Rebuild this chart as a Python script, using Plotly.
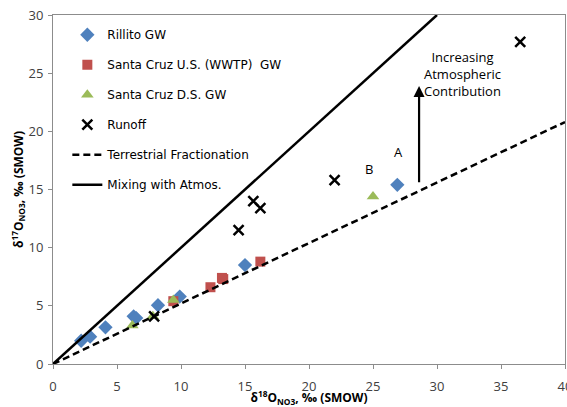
import plotly.graph_objects as go

# ---- data ----
rillito_x = [2.2, 2.9, 4.1, 6.3, 6.5, 8.2, 9.9, 15.0, 26.9]
rillito_y = [2.0, 2.35, 3.15, 4.1, 3.95, 5.05, 5.8, 8.5, 15.4]

scus_x = [9.4, 12.3, 13.3, 13.2, 16.2]
scus_y = [5.4, 6.6, 7.3, 7.4, 8.8]

scds_x = [6.2, 7.8, 9.4, 25.0]
scds_y = [3.3, 4.1, 5.5, 14.4]

runoff_x = [7.9, 14.5, 15.65, 16.2, 22.0, 36.5]
runoff_y = [4.1, 11.5, 14.0, 13.4, 15.8, 27.7]

terr_x = [0, 40]
terr_y = [0, 20.8]

mix_x = [0, 30]
mix_y = [0, 30]

font_family = "Open Sans"
legend_font = "DejaVu Sans"
tick_color = "#404040"

fig = go.Figure()

fig.add_trace(go.Scatter(x=rillito_x, y=rillito_y, mode="markers", name="Rillito GW",
                         legendgroup="a",
                         marker=dict(symbol="diamond", size=11, color="#4F81BD")))
fig.add_trace(go.Scatter(x=scus_x, y=scus_y, mode="markers", name="Santa Cruz U.S. (WWTP)  GW",
                         legendgroup="b",
                         marker=dict(symbol="square", size=10, color="#C0504D")))
fig.add_trace(go.Scatter(x=scds_x, y=scds_y, mode="markers", name="Santa Cruz D.S. GW",
                         legendgroup="c",
                         marker=dict(symbol="triangle-up", size=11, color="#9BBB59")))
fig.add_trace(go.Scatter(x=runoff_x, y=runoff_y, mode="markers", name="Runoff",
                         legendgroup="d",
                         marker=dict(symbol="x-thin", size=10, color="black",
                                     line=dict(width=2.5, color="black"))))
fig.add_trace(go.Scatter(x=terr_x, y=terr_y, mode="lines", name="Terrestrial Fractionation",
                         legendgroup="e",
                         line=dict(color="black", width=2.5, dash="7px,4px")))
fig.add_trace(go.Scatter(x=mix_x, y=mix_y, mode="lines", name="Mixing with Atmos.",
                         legendgroup="f",
                         line=dict(color="black", width=2.5)))

fig.add_annotation(x=28.6, y=23.9, ax=28.6, ay=15.5, xref="x", yref="y", axref="x", ayref="y",
                   text="", showarrow=True, arrowhead=2, arrowsize=1, arrowwidth=2.2, arrowcolor="black")
fig.add_annotation(x=32.0, y=24.9, xref="x", yref="y", showarrow=False,
                   text="Increasing<br>Atmospheric<br>Contribution",
                   font=dict(family=font_family, size=13, color="black"), align="center")
fig.add_annotation(x=27.0, y=18.2, xref="x", yref="y", showarrow=False, text="A",
                   font=dict(family=font_family, size=13, color="black"))
fig.add_annotation(x=24.7, y=16.8, xref="x", yref="y", showarrow=False, text="B",
                   font=dict(family=font_family, size=13, color="black"))

fig.update_layout(
    width=567, height=407,
    margin=dict(l=53, r=2, t=15, b=43),
    paper_bgcolor="white", plot_bgcolor="white",
    font=dict(family=font_family, size=13, color=tick_color),
    showlegend=True,
    legend=dict(x=0.028, y=0.985, xanchor="left", yanchor="top",
                bgcolor="rgba(0,0,0,0)", tracegroupgap=11,
                font=dict(family=legend_font, size=12, color="black")),
    xaxis=dict(range=[0, 40], tick0=0, dtick=5, showgrid=False, zeroline=False,
               automargin=False, ticklabeloverflow="allow",
               showline=True, linecolor="#8c8c8c", linewidth=1, mirror=True,
               ticks="outside", ticklen=4, tickcolor="#8c8c8c", ticklabelstandoff=6,
               tickfont=dict(family=font_family, size=13, color=tick_color),
               title=dict(text="<b>δ<sup>18</sup>O<sub>NO3</sub>, ‰ (SMOW)</b>", standoff=9,
                          font=dict(family=font_family, size=12, color="black"))),
    yaxis=dict(range=[0, 30], tick0=0, dtick=5, showgrid=False, zeroline=False,
               automargin=False, ticklabeloverflow="allow",
               showline=True, linecolor="#8c8c8c", linewidth=1, mirror=True,
               ticks="outside", ticklen=4, tickcolor="#8c8c8c", ticklabelstandoff=2,
               tickfont=dict(family=font_family, size=13, color=tick_color),
               title=dict(text="<b>δ<sup>17</sup>O<sub>NO3</sub>, ‰ (SMOW)</b>", standoff=2,
                          font=dict(family=font_family, size=12, color="black"))),
)

page_fix = ("document.body.style.margin='0';"
            "document.body.style.overflow='hidden';"
            "document.documentElement.style.overflow='hidden';")
fig.write_html("out.html", post_script=page_fix, config={"displayModeBar": False})
